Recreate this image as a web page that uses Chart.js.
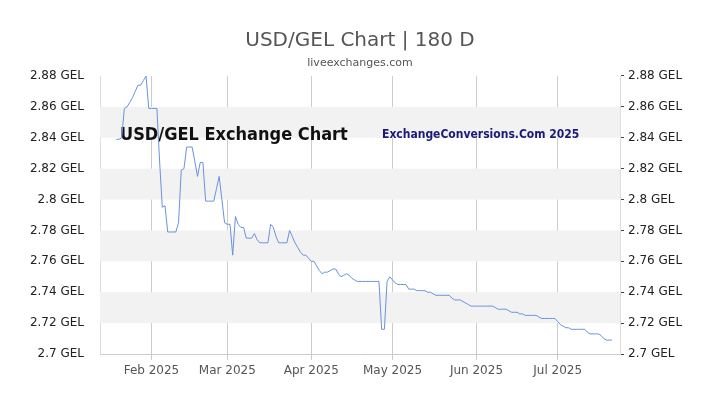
<!DOCTYPE html>
<html><head><meta charset="utf-8">
<script src="https://cdn.jsdelivr.net/npm/chart.js@4"></script>
<style>html,body{margin:0;padding:0;background:#fff}#c{display:block}</style>
</head><body>
<canvas id="c" width="720" height="405"></canvas>
<script>
const axisStart = [2025, 0, 13];
const leadingEmptyDays = 6;
const trailingEmptyDays = 3;
const rates = [
2.839,2.839,2.840,2.859,2.860,2.863,2.866,2.870,2.874,2.874,2.877,2.880,
2.859,2.859,2.859,2.859,2.825,2.795,2.796,2.779,2.779,2.779,2.779,2.785,
2.819,2.820,2.834,2.834,2.834,2.825,2.815,2.824,2.824,2.799,2.799,2.799,
2.799,2.807,2.815,2.800,2.785,2.784,2.784,2.764,2.789,2.784,2.782,2.782,
2.775,2.775,2.775,2.778,2.774,2.772,2.772,2.772,2.772,2.784,2.782,2.776,
2.772,2.772,2.772,2.772,2.780,2.776,2.772,2.769,2.766,2.764,2.764,2.762,
2.760,2.760,2.757,2.754,2.752,2.753,2.753,2.754,2.755,2.755,2.752,2.750,
2.751,2.752,2.751,2.749,2.748,2.747,2.747,2.747,2.747,2.747,2.747,2.747,
2.747,2.747,2.716,2.716,2.747,2.750,2.748,2.746,2.745,2.745,2.745,2.745,
2.742,2.742,2.742,2.741,2.741,2.741,2.741,2.740,2.740,2.739,2.738,2.738,
2.738,2.738,2.738,2.738,2.736,2.735,2.735,2.735,2.734,2.733,2.732,2.731,
2.731,2.731,2.731,2.731,2.731,2.731,2.731,2.731,2.730,2.729,2.729,2.729,
2.729,2.728,2.727,2.727,2.727,2.726,2.726,2.725,2.725,2.725,2.725,2.725,
2.724,2.723,2.723,2.723,2.723,2.723,2.723,2.721,2.719,2.718,2.717,2.717,
2.716,2.716,2.716,2.716,2.716,2.716,2.714,2.713,2.713,2.713,2.713,2.712,
2.710,2.709,2.709,2.709];
const monthNames = ['Jan','Feb','Mar','Apr','May','Jun','Jul','Aug'];
const yTicks = [2.70,2.72,2.74,2.76,2.78,2.80,2.82,2.84,2.86,2.88];
const bands = [[2.84,2.86],[2.80,2.82],[2.76,2.78],[2.72,2.74]];

const series = Array(leadingEmptyDays).fill(null).concat(rates, Array(trailingEmptyDays).fill(null));
const dates = series.map((_, i) => new Date(axisStart[0], axisStart[1], axisStart[2] + i));
const labels = dates.map(d => d.getDate() === 1 ? monthNames[d.getMonth()] + ' ' + d.getFullYear() : '');

const fmt = v => (Math.round(v * 100) / 100) + ' GEL';
const isMajor = v => Math.abs(Math.round(v * 50) - v * 50) < 1e-6;

const deco = {
  id: 'deco',
  beforeDatasetsDraw(chart) {
    const {ctx, chartArea: a, scales: {y}} = chart;
    ctx.save();
    ctx.fillStyle = '#f2f2f2';
    bands.forEach(([lo, hi]) => {
      const t = y.getPixelForValue(hi), b = y.getPixelForValue(lo);
      ctx.fillRect(a.left, t, a.right - a.left, b - t);
    });
    ctx.font = 'bold 18px "Liberation Sans Narrow", "DejaVu Sans Condensed", sans-serif';
    ctx.fillStyle = '#111';
    ctx.textBaseline = 'middle';
    ctx.fillText('USD/GEL Exchange Chart', 120, 135);
    ctx.font = 'bold 12px "Liberation Sans Narrow", "DejaVu Sans Condensed", sans-serif';
    ctx.fillStyle = '#1a1a7a';
    ctx.fillText('ExchangeConversions.Com 2025', 382, 135);
    ctx.restore();
  },
  afterDraw(chart) {
    const ctx = chart.ctx;
    ctx.save();
    ctx.textAlign = 'center';
    ctx.fillStyle = '#555';
    ctx.font = '20px "DejaVu Sans", sans-serif';
    ctx.fillText('USD/GEL Chart | 180 D', 360, 46);
    ctx.font = '11px "DejaVu Sans", sans-serif';
    ctx.fillText('liveexchanges.com', 360, 66);
    ctx.restore();
  }
};

new Chart(document.getElementById('c'), {
  type: 'line',
  data: { labels, datasets: [{ data: series, borderColor: '#6a92dc', borderWidth: 1, pointRadius: 0, tension: 0, yAxisID: 'y', spanGaps: false }] },
  options: {
    responsive: false, animation: false,
    layout: { padding: { top: 76, left: 0, right: 0, bottom: 0 } },
    plugins: { legend: { display: false }, tooltip: { enabled: false } },
    scales: {
      x: {
        offset: false,
        ticks: { autoSkip: false, maxRotation: 0, color: '#555', font: { size: 12, family: 'DejaVu Sans' }, padding: 4 },
        grid: { color: c => labels[c.index] ? '#cccccc' : 'rgba(0,0,0,0)', drawTicks: true, tickLength: 6 },
        border: { color: '#ccc' },
        afterFit: s => { s.height = 51; }
      },
      y: {
        position: 'left', min: 2.70, max: 2.88,
        afterBuildTicks: s => { s.ticks = yTicks.map(v => ({ value: v })); },
        ticks: { callback: v => fmt(v), color: '#222', font: { size: 12, family: 'DejaVu Sans' }, padding: 8 },
        grid: { display: false },
        border: { color: '#ddd' },
        afterFit: s => { s.width = 100; }
      },
      y2: {
        position: 'right', min: 2.70, max: 2.88,
        afterBuildTicks: s => { const t = []; for (let i = 0; i <= 18; i++) t.push({ value: 2.70 + i * 0.01 }); s.ticks = t; },
        ticks: { callback: v => isMajor(v) ? fmt(v) : '', color: '#222', font: { size: 12, family: 'DejaVu Sans' }, padding: 4 },
        grid: { drawOnChartArea: false, tickLength: 4, color: '#444' },
        border: { color: '#ddd' },
        afterFit: s => { s.width = 100; }
      }
    }
  },
  plugins: [deco]
});
</script>
</body></html>
